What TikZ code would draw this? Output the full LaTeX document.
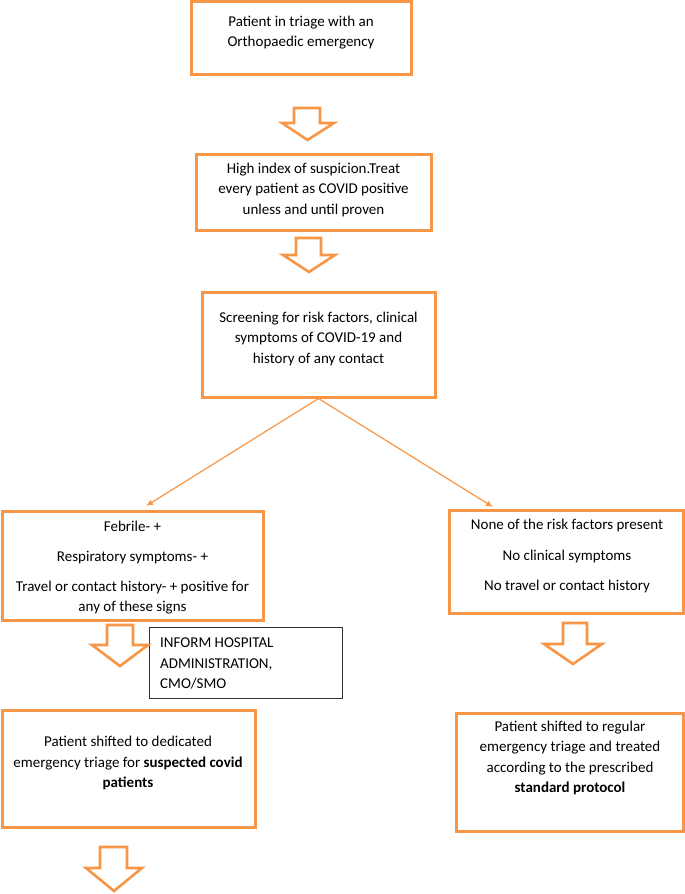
\documentclass[tikz,border=0pt]{standalone}
\usepackage{fontspec}
\setmainfont{Carlito}
\usetikzlibrary{arrows.meta}
\definecolor{org}{RGB}{247,150,70}
\tikzset{
  obox/.style={draw=org, line width=3pt, rectangle, inner sep=0pt},
  kbox/.style={draw=black!80, line width=0.9pt, rectangle, inner sep=0pt},
  txt/.style={align=center, inner sep=0pt, font=\fontsize{15}{20.5}\selectfont},
  blockarrow/.style={draw=org, line width=2.6pt, fill=white, line join=miter},
  conn/.style={draw=org, line width=1.2pt, -{Latex[length=7pt,width=6pt]}}
}
\begin{document}
\begin{tikzpicture}[x=1pt,y=-1pt]
\useasboundingbox (0,0) rectangle (685,894);
% boxes
\node[obox, minimum width=220pt, minimum height=73pt] (b1) at (301,37.5) {};
\node[txt] (t1) at (301,32.5) {Patient in triage with an\\Orthopaedic emergency};

\node[obox, minimum width=235pt, minimum height=76pt] (b2) at (313.5,192) {};
\node[txt] (t2) at (313.5,189.5) {High index of suspicion.Treat\\every patient as COVID positive\\unless and until proven};

\node[obox, minimum width=233pt, minimum height=105pt] (b3) at (318.5,344.5) {};
\node[txt] (t3) at (318.5,338.5) {Screening for risk factors, clinical\\symptoms of COVID-19 and\\history of any contact};

\node[obox, minimum width=261pt, minimum height=109pt] (b4) at (132.5,565.5) {};
\node[txt] (t4) at (132.5,567.5) {Febrile- +\\[9.5pt]Respiratory symptoms- +\\[9.5pt]Travel or contact history- + positive for\\any of these signs};

\node[obox, minimum width=234pt, minimum height=103pt] (b5) at (566,561.5) {};
\node[txt] (t5) at (567,556) {None of the risk factors present\\[10pt]No clinical symptoms\\[10pt]No travel or contact history};

\node[kbox, minimum width=193pt, minimum height=71pt] (b6) at (245.5,662.5) {};
\node[txt, align=left, anchor=west] (t6) at (160,663.5) {INFORM HOSPITAL\\ADMINISTRATION,\\CMO/SMO};

\node[obox, minimum width=253pt, minimum height=117pt] (b7) at (128.5,768.5) {};
\node[txt] (t7) at (128,763) {Patient shifted to dedicated\\emergency triage for \textbf{suspected covid}\\\textbf{patients}};

\node[obox, minimum width=227pt, minimum height=118pt] (b8) at (569.5,772) {};
\node[txt] (t8) at (570,758) {Patient shifted to regular\\emergency triage and treated\\according to the prescribed\\\textbf{standard protocol}};

% block arrows
\draw[blockarrow] (294,108) -- (320,108) -- (320,123) -- (334,123) -- (307.5,140) -- (282,123) -- (294,123) -- cycle;
\draw[blockarrow] (296,238) -- (321,238) -- (321,255) -- (335,255) -- (309,272) -- (283,255) -- (296,255) -- cycle;
\draw[blockarrow] (107,625) -- (133,625) -- (133,645) -- (148,645) -- (120,666) -- (92,645) -- (107,645) -- cycle;
\draw[blockarrow] (563,623) -- (587,623) -- (587,644) -- (602,644) -- (573,664) -- (544,644) -- (563,644) -- cycle;
\draw[blockarrow] (100,847) -- (127,847) -- (127,868) -- (142,868) -- (114,891) -- (86,868) -- (100,868) -- cycle;

% connectors
\coordinate (l1) at (146,506);
\coordinate (r1) at (493,507);
\draw[conn] (b3.south) -- (l1);
\draw[conn] (b3.south) -- (r1);
\end{tikzpicture}
\end{document}
